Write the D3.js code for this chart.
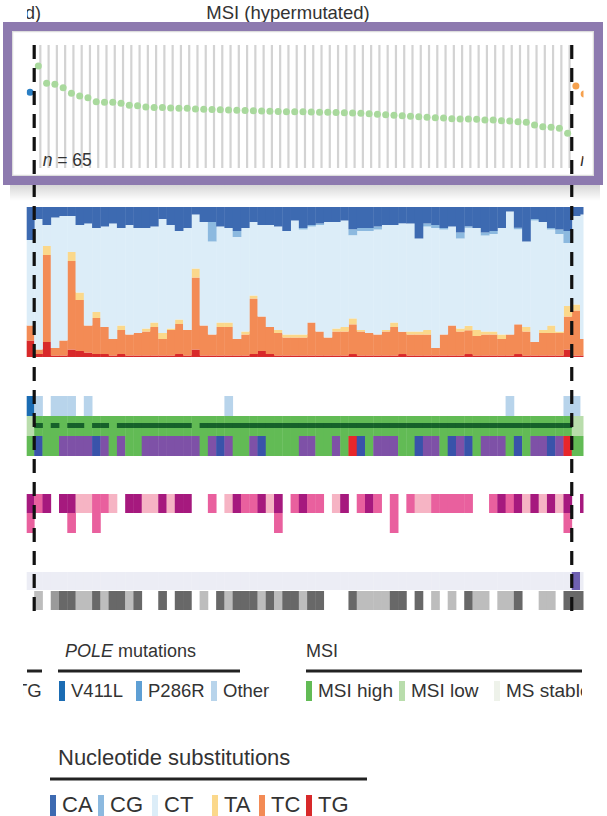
<!DOCTYPE html>
<html lang="en">
<head>
<meta charset="utf-8">
<script src="https://cdn.jsdelivr.net/npm/d3@7"></script>
<style>
  body { margin: 0; background: #fff; }
  svg { display: block; font-family: "Liberation Sans", Arial, sans-serif; }
</style>
</head>
<body>
<div id="chart"></div>
<script>
// columns: -1 = last POLE sample, 0..64 = MSI (hypermutated), 65/66 = next group
var cols = d3.range(-1, 67);

// mutation rate (per Mb), MSI samples 0..64
var mutRate = [294,112,106,88,64,55,50,40,39,39,37,33,32,30,29,29,28.3,27.8,27.8,26.8,
  26.5,26.0,25.7,25.3,25.0,24.6,24.3,23.9,23.7,23.3,23.0,
  23.0,22.8,22.7,22.4,22.3,22.0,21.7,21.5,21.0,20.4,19.9,19.3,18.8,18.3,17.8,17.3,16.9,16.5,16.2,
  15.5,15.4,15.3,15.1,14.5,14.5,14.0,13.7,13.2,12.8,11.0,10.0,9.7,9.1,6.9];
var poleRate = [68];        // col -1
var nextRate = [96, 62];    // cols 65, 66

// nucleotide substitution shares (%), cols -1..66
var CA = [22,8,12,7,6,6,12,11,14,13,11,14,12,14,14,13,8,12,16,14,5,10,10,13,14,16,14,10,12,12,13,16,9,14,
  12,11,10,10,9,15,14,14,13,12,12,11,11,21,11,12,14,13,17,13,14,17,16,14,3,14,23,8,10,14,15,16,6,5];
var CG = [0,0,0,0,0,0,0,0,0,0,0,0,0,0,0,0,0,0,0,0,0,0,13,0,0,4,0,0,0,0,0,0,0,1,
  1,1,0,0,0,4,2,2,2,0,0,0,0,0,2,2,1,0,4,1,0,2,2,0,0,1,0,1,0,1,3,8,0,0];
var CT = [57,87,14,87,83,24,45,68,56,67,77,65,73,70,67,64,76,69,59,68,36,69,62,64,63,68,69,49,61,68,69,69,76,70,
  64,71,77,71,71,56,66,68,70,70,65,73,72,62,69,80,70,66,60,66,68,64,65,71,82,64,57,81,72,64,65,42,59,83];
var TA = [0,0,6,0,0,6,5,0,4,0,0,3,0,0,2,3,4,1,3,0,6,0,0,3,3,0,2,2,0,0,2,2,2,2,
  0,0,0,2,3,4,1,0,0,1,3,0,2,2,3,0,0,0,2,3,4,2,2,3,0,0,3,0,2,5,1,7,4,0];
var TC = [10,3,58,5,10,59,34,18,24,18,11,16,14,15,16,19,11,17,20,17,48,20,14,19,19,11,14,37,23,18,15,12,12,12,
  22,16,12,16,16,20,16,15,14,16,19,15,14,14,14,5,14,20,16,16,13,14,14,11,14,20,16,9,15,15,15,22,30,11];
var TG = [11,2,10,1,1,5,4,3,2,2,1,2,1,1,1,1,1,1,2,1,5,1,1,1,1,1,1,2,4,2,1,1,1,1,
  1,1,1,1,1,2,1,1,1,1,1,2,1,1,1,1,1,1,1,2,1,1,1,1,1,2,1,1,1,1,1,5,1,1];

// annotation tracks, cols -1..66
var pole = ["V","O","","O","O","O","","O","","","","","","","","","","","","","","","","","O","","","","","","","","","",
  "","","","","","","","","","","","","","","","","","","","","","","","","O","","","","","","","O","O",""];
var msi = cols.map(function (c) { return (c < 0 || c > 64) ? "low" : "high"; });
var mlh1 = [0,1,0,1,0,1,1,0,1,1,0,1,1,1,1,1,1,1,1,1,0,1,1,1,1,1,1,1,1,1,1,1,1,1,
  1,1,1,1,1,1,1,1,1,1,1,1,1,1,1,1,1,1,1,1,1,1,1,1,1,1,1,1,1,1,1,1,0,0];
var subtype = ["g","b","g","g","p","p","p","p","b","p","g","p","g","g","p","p","p","p","p","p","p","g","p","b","p","g","g","p","b","g","g","g","g","p",
  "p","g","g","p","g","r","b","g","p","p","p","g","g","b","p","p","g","b","p","b","g","p","p","p","g","b","g","p","p","b","p","r","g","g"];
var cnA = ["d","m","d","","d","d","l","l","m","m","l","","d","d","l","l","d","l","d","d","","","m","","l","d","m","m","d","l","d","","m","d",
  "m","m","","l","d","","m","d","m","","m","","m","l","l","m","m","m","m","m","","","m","d","m","d","l","d","l","d","l","d","","d"];
var cnB = cols.map(function (c) { return [-1, 4, 7, 29, 43, 64].indexOf(c) >= 0 ? 1 : 0; });
var lavender = cols.map(function (c) { return c === 65 ? 1 : 0; });
var greyTrack = ["","l","","m","k","k","l","l","k","l","k","k","l","k","","","k","","k","k","","l","","k","l","k","k","k","l","k","l","k","k","l",
  "k","k","","","","k","l","l","l","l","k","k","","k","","l","","l","","k","l","l","","l","l","k","","","l","l","","k","k","k"];

// legends
var poleLabels = ["V411L", "P286R", "Other"];
var msiLabels = ["MSI high", "MSI low", "MS stable"];
var subLabels = ["CA", "CG", "CT", "TA", "TC", "TG"];

var subColor = { CA: "#3d6ab1", CG: "#8cb9df", CT: "#dcedf8", TA: "#fbd88b", TC: "#f38b55", TG: "#d8292a" };
var poleColor = { V: "#1b6cb3", P: "#5e9fd4", O: "#b8d4eb" };
var msiColor = { high: "#62bb55", low: "#b9ddac", stable: "#eef2ea" };
var subtypeColor = { g: "#62bb55", p: "#7e51a7", b: "#3953aa", r: "#e8262a" };
var cnColor = { d: "#a6197e", m: "#e9609e", l: "#f6b4c4" };
var greyColor = { k: "#686868", m: "#9a9a9a", l: "#bdbdbd" };

var W = 607, H = 816;
var svg = d3.select("#chart").append("svg").attr("width", W).attr("height", H);

var x = d3.scaleBand().domain(cols).range([34.2 - 8.27, 34.2 + 67 * 8.27]);
var bw = x.bandwidth();
var cx = function (c) { return x(c) + bw / 2; };

var defs = svg.append("defs");
defs.append("clipPath").attr("id", "plotClip")
  .append("rect").attr("x", 26.7).attr("y", 0).attr("width", 583.5 - 26.7).attr("height", 640);
var sh = defs.append("linearGradient").attr("id", "shade")
  .attr("x1", 0).attr("y1", 0).attr("x2", 0).attr("y2", 1);
sh.append("stop").attr("offset", 0).attr("stop-color", "#000").attr("stop-opacity", 0.16);
sh.append("stop").attr("offset", 1).attr("stop-color", "#000").attr("stop-opacity", 0);
defs.append("clipPath").attr("id", "legClip")
  .append("rect").attr("x", 23).attr("y", 620).attr("width", 582 - 23).attr("height", 200);
defs.append("clipPath").attr("id", "titleClip")
  .append("rect").attr("x", 27).attr("y", 0).attr("width", 580).attr("height", 22);

// title
svg.append("text").attr("x", 25).attr("y", 19).attr("font-size", 18).attr("fill", "#333")
  .attr("clip-path", "url(#titleClip)").text("d)");
svg.append("text").attr("x", 288).attr("y", 19).attr("font-size", 18.5).attr("fill", "#333")
  .attr("text-anchor", "middle").text("MSI (hypermutated)");

var plot = svg.append("g").attr("clip-path", "url(#plotClip)");

// ---- mutation rate dot plot
var yRate = d3.scaleLog().domain([1, 1000]).range([168, 44]);
plot.append("g").selectAll("line").data(d3.range(0, 65)).enter().append("line")
  .attr("x1", function (c) { return cx(c) + 2; }).attr("x2", function (c) { return cx(c) + 2; })
  .attr("y1", 45).attr("y2", 168)
  .attr("stroke", "#d3d3d3").attr("stroke-width", 2.2);

var dots = mutRate.map(function (v, i) { return { c: i, v: v, col: "#a9d99d" }; })
  .concat(poleRate.map(function (v) { return { c: -1, v: v, col: "#2b7fc4" }; }))
  .concat(nextRate.map(function (v, i) { return { c: 65 + i, v: v, col: "#f6a14e" }; }));
plot.append("g").selectAll("circle").data(dots).enter().append("circle")
  .attr("cx", function (d) { return cx(d.c); })
  .attr("cy", function (d) { return yRate(d.v); })
  .attr("r", 3.5).attr("fill", function (d) { return d.col; });

var nLab = plot.append("text").attr("x", x(0) + 8.5).attr("y", 166).attr("font-size", 17.5).attr("fill", "#333");
nLab.append("tspan").attr("font-style", "italic").text("n");
nLab.append("tspan").text(" = 65");
plot.append("text").attr("x", x(65) + 8.5).attr("y", 166).attr("font-size", 17.5).attr("fill", "#333")
  .attr("font-style", "italic").text("n");

// ---- nucleotide substitution stacked bars
var subKeys = ["TG", "TC", "TA", "CT", "CG", "CA"];
var subRows = cols.map(function (c, i) {
  return { c: c, CA: CA[i], CG: CG[i], CT: CT[i], TA: TA[i], TC: TC[i], TG: TG[i] };
});
var stack = d3.stack().keys(subKeys).offset(d3.stackOffsetExpand)(subRows);
var ySub = d3.scaleLinear().domain([0, 1]).range([357, 207]);
plot.append("g").selectAll("g").data(stack).enter().append("g")
  .attr("fill", function (s) { return subColor[s.key]; })
  .selectAll("rect").data(function (s) { return s; }).enter().append("rect")
  .attr("x", function (d) { return x(d.data.c); })
  .attr("width", bw + 0.4)
  .attr("y", function (d) { return ySub(d[1]); })
  .attr("height", function (d) { return Math.max(0, ySub(d[0]) - ySub(d[1])); });

// ---- annotation tracks
function track(data, y0, h, colorOf) {
  plot.append("g").selectAll("rect").data(cols.map(function (c, i) { return { c: c, v: data[i] }; })
      .filter(function (d) { return colorOf(d.v); }))
    .enter().append("rect")
    .attr("x", function (d) { return x(d.c); }).attr("width", bw + 0.4)
    .attr("y", y0).attr("height", h)
    .attr("fill", function (d) { return colorOf(d.v); });
}
track(pole, 396, 20, function (v) { return poleColor[v]; });
track(msi, 416, 20, function (v) { return msiColor[v]; });
track(mlh1, 423, 5, function (v) { return v ? "#16612a" : null; });
track(subtype, 436, 20, function (v) { return subtypeColor[v]; });
track(cnA, 494, 19, function (v) { return cnColor[v]; });
track(cnB, 513, 20, function (v) { return v ? "#e9609e" : null; });
track(lavender, 572, 18, function (v) { return v ? "#6f60b2" : "#ecedf5"; });
track(greyTrack, 591, 19, function (v) { return greyColor[v]; });

// ---- group separators
svg.append("g").selectAll("line").data([0, 65]).enter().append("line")
  .attr("x1", function (c) { return x(c); }).attr("x2", function (c) { return x(c); })
  .attr("y1", 45).attr("y2", 612)
  .attr("stroke", "#111").attr("stroke-width", 3.2).attr("stroke-dasharray", "14,9");

// ---- highlight frame over the top panel
svg.append("rect").attr("x", 10).attr("y", 185).attr("width", 590).attr("height", 16).attr("fill", "url(#shade)");
svg.append("rect").attr("x", 12.5).attr("y", 31.5).attr("width", 581).attr("height", 144)
  .attr("fill", "none").attr("stroke", "#dcdcdc").attr("stroke-width", 1.5);
svg.append("rect").attr("x", 7.5).attr("y", 26.5).attr("width", 591).attr("height", 154)
  .attr("fill", "none").attr("stroke", "#8d7aaf").attr("stroke-width", 9);

// ---- legends
var leg = svg.append("g").attr("clip-path", "url(#legClip)").attr("fill", "#333");

function legendBlock(title, italicWord, labels, colors, xs, titleX, lineX1, lineX2, yTitle, yLine, ySw, swH, fs, tfs) {
  var t = leg.append("text").attr("x", titleX).attr("y", yTitle).attr("font-size", tfs);
  if (italicWord) t.append("tspan").attr("font-style", "italic").text(italicWord + " ");
  t.append("tspan").text(title);
  leg.append("line").attr("x1", lineX1).attr("x2", lineX2).attr("y1", yLine).attr("y2", yLine)
    .attr("stroke", "#222").attr("stroke-width", 3);
  var it = leg.append("g").selectAll("g").data(labels).enter().append("g")
    .attr("transform", function (d, i) { return "translate(" + xs[i] + "," + ySw + ")"; });
  it.append("rect").attr("width", 6).attr("height", swH).attr("fill", function (d, i) { return colors[i]; });
  it.append("text").attr("x", 12).attr("y", swH - 4).attr("font-size", fs).text(function (d) { return d; });
}

// tail of the previous legend block
leg.append("line").attr("x1", 27).attr("x2", 42).attr("y1", 671).attr("y2", 671).attr("stroke", "#222").attr("stroke-width", 3);
leg.append("text").attr("x", 16).attr("y", 697).attr("font-size", 18.5).text("TG");

legendBlock("mutations", "POLE", poleLabels, [poleColor.V, poleColor.P, poleColor.O],
  [59, 136, 211], 65, 58, 240, 657, 671, 681, 20, 18.5, 18);
legendBlock("MSI", null, msiLabels, [msiColor.high, msiColor.low, msiColor.stable],
  [306, 399, 494], 306, 306, 607, 657, 671, 681, 20, 19, 18);
legendBlock("Nucleotide substitutions", null, subLabels, subLabels.map(function (k) { return subColor[k]; }),
  [50, 98, 152, 212, 259, 306], 58, 50, 367, 765, 779, 795, 21, 22, 22);
</script>
</body>
</html>
